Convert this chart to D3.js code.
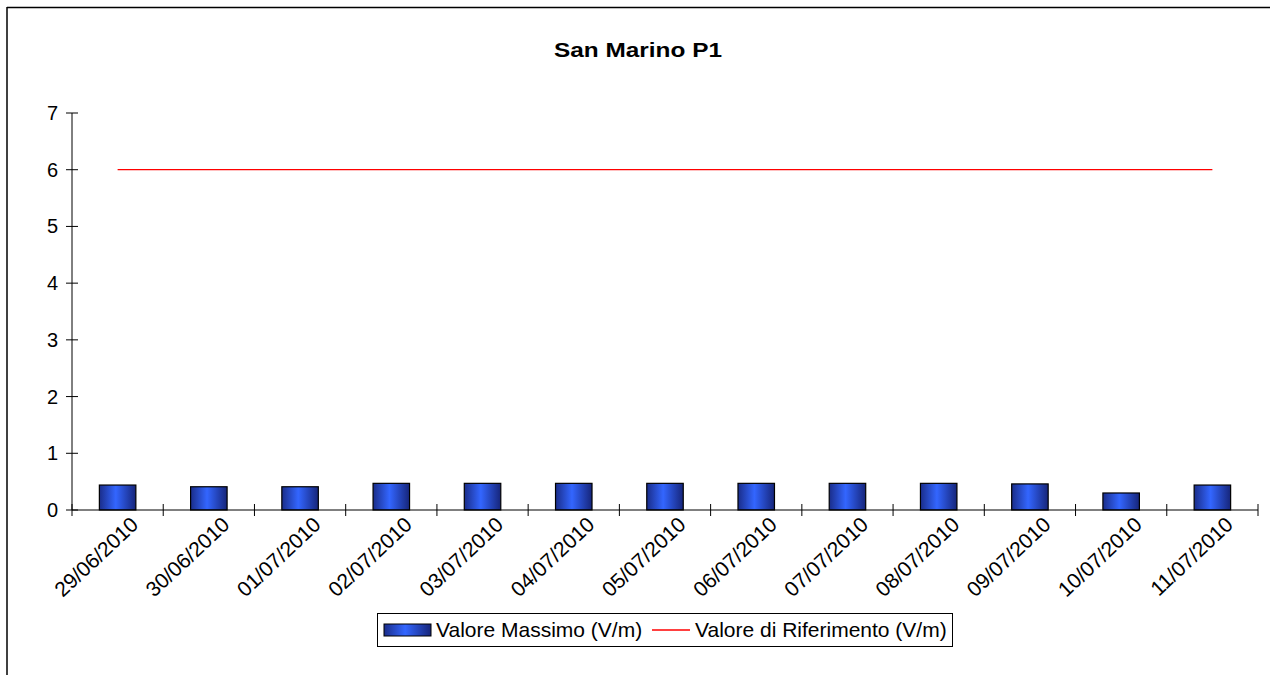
<!DOCTYPE html>
<html><head><meta charset="utf-8">
<script src="https://cdn.jsdelivr.net/npm/d3@7"></script>
<style>body{margin:0;background:#fff}svg{display:block;font-family:Arial,"Liberation Sans",sans-serif}</style>
</head><body>
<script>
const categories = ["29/06/2010","30/06/2010","01/07/2010","02/07/2010","03/07/2010","04/07/2010","05/07/2010","06/07/2010","07/07/2010","08/07/2010","09/07/2010","10/07/2010","11/07/2010"];
const valoreMassimo = [0.44,0.41,0.41,0.47,0.47,0.47,0.47,0.47,0.47,0.47,0.46,0.30,0.44];
const valoreRiferimento = [6,6,6,6,6,6,6,6,6,6,6,6,6];
const yTicks = [0,1,2,3,4,5,6,7];
const title = "San Marino P1";
const legendLabels = ["Valore Massimo (V/m)","Valore di Riferimento (V/m)"];

const W=1270,H=675;
const svg=d3.select("body").append("svg").attr("width",W).attr("height",H);
const defs=svg.append("defs");
const g=defs.append("linearGradient").attr("id","barGrad").attr("x1","0").attr("x2","1").attr("y1","0").attr("y2","0");
g.append("stop").attr("offset","0%").attr("stop-color","#1a2d8a");
g.append("stop").attr("offset","45%").attr("stop-color","#3366ff");
g.append("stop").attr("offset","100%").attr("stop-color","#16257a");

// outer frame (top & left visible)
svg.append("line").attr("x1",7).attr("x2",W).attr("y1",7.5).attr("y2",7.5).attr("stroke","#000").attr("stroke-width",1.5);
svg.append("line").attr("x1",7).attr("x2",7).attr("y1",7).attr("y2",H).attr("stroke","#000").attr("stroke-width",1.5);

const x=d3.scaleBand().domain(categories).range([72,1258]).paddingInner(0).paddingOuter(0);
const y=d3.scaleLinear().domain([0,7]).range([510,113]);

svg.append("text").attr("transform",`translate(638,57) scale(1.25,1)`).attr("text-anchor","middle").attr("font-weight","bold").attr("font-size",19.5).text(title);

// bars
const bw=x.bandwidth()*0.4;
svg.selectAll("rect.bar").data(categories).enter().append("rect")
 .attr("x",d=>x(d)+x.bandwidth()/2-bw/2).attr("width",bw)
 .attr("y",(d,i)=>y(valoreMassimo[i])).attr("height",(d,i)=>y(0)-y(valoreMassimo[i]))
 .attr("fill","url(#barGrad)").attr("stroke","#000").attr("stroke-width",1.2);

// reference line
const line=d3.line().x((d,i)=>x(categories[i])+x.bandwidth()/2).y(d=>y(d));
svg.append("path").datum(valoreRiferimento).attr("d",line).attr("fill","none").attr("stroke","#ff0000").attr("stroke-width",1.3);

// y axis
svg.append("line").attr("x1",72).attr("x2",72).attr("y1",y(7)).attr("y2",y(0)).attr("stroke","#000");
svg.selectAll("line.yt").data(yTicks).enter().append("line").attr("x1",66).attr("x2",78).attr("y1",d=>y(d)).attr("y2",d=>y(d)).attr("stroke","#000");
svg.selectAll("text.yl").data(yTicks).enter().append("text")
 .attr("x",58).attr("y",d=>y(d)).attr("text-anchor","end").attr("dy","0.35em").attr("font-size",20).text(d3.format("d"));

// x axis
svg.append("line").attr("x1",72).attr("x2",1258).attr("y1",y(0)).attr("y2",y(0)).attr("stroke","#000");
const xt=categories.map(c=>x(c)).concat([x.range()[1]]);
svg.selectAll("line.xt").data(xt).enter().append("line").attr("x1",d=>d).attr("x2",d=>d).attr("y1",y(0)-6).attr("y2",y(0)+6).attr("stroke","#000");
svg.selectAll("text.xl").data(categories).enter().append("text")
 .attr("transform",d=>`translate(${x(d)+x.bandwidth()/2+17},${y(0)+11}) rotate(-43)`)
 .attr("text-anchor","end").attr("font-size",21).attr("dy","0.35em").text(d=>d);

// legend
svg.append("rect").attr("x",377.5).attr("y",613.5).attr("width",575).attr("height",33).attr("fill","#fff").attr("stroke","#000");
svg.append("rect").attr("x",384).attr("y",624).attr("width",47).attr("height",12).attr("fill","url(#barGrad)").attr("stroke","#000");
svg.append("text").attr("x",436).attr("y",637).attr("font-size",21).text(legendLabels[0]);
svg.append("line").attr("x1",652).attr("x2",690).attr("y1",630).attr("y2",630).attr("stroke","#ff0000").attr("stroke-width",1.3);
svg.append("text").attr("x",695).attr("y",637).attr("font-size",21).text(legendLabels[1]);
</script>
</body></html>
